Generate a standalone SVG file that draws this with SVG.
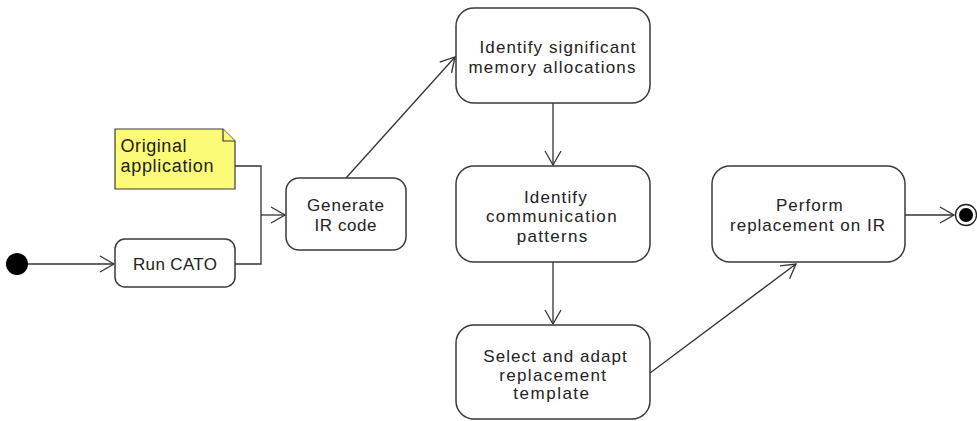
<svg xmlns="http://www.w3.org/2000/svg" width="977" height="421" viewBox="0 0 977 421">
<style>
.box{fill:#fff;stroke:#3a3a3a;stroke-width:1.5}
.note{fill:#FBFB77;stroke:#3a3a3a;stroke-width:1.2}
.t{font-family:"Liberation Sans",Arial,sans-serif;font-size:17px;fill:#222;text-anchor:middle}
.tn{font-family:"Liberation Sans",Arial,sans-serif;font-size:18px;fill:#222}
.c{fill:none;stroke:#333;stroke-width:1.3}
</style>
<defs>
<marker id="arr" markerUnits="userSpaceOnUse" markerWidth="18" markerHeight="20" refX="16" refY="10" orient="auto">
<path d="M2,2 L16,10 L2,18" fill="none" stroke="#333" stroke-width="1.3"/>
</marker>
</defs>
<g id="connectors">
<path class="c" d="M28,264 H114" marker-end="url(#arr)"/>
<path class="c" d="M235,166 H261 V264 H235"/>
<path class="c" d="M261,215 H285" marker-end="url(#arr)"/>
<path class="c" d="M346,178 L455,57" marker-end="url(#arr)"/>
<path class="c" d="M553,103 V165" marker-end="url(#arr)"/>
<path class="c" d="M553,262 V324" marker-end="url(#arr)"/>
<path class="c" d="M650,373 L796,264" marker-end="url(#arr)"/>
<path class="c" d="M905,215 H954" marker-end="url(#arr)"/>
</g>
<g id="start"><circle cx="17" cy="264" r="11" fill="#000"/></g>
<g id="note">
<path class="note" d="M115,129 H223 L235,141 V189 H115 Z"/>
<path class="note" d="M223,129 V141 H235" fill="none"/>
<text class="tn" x="120.5" y="152" textLength="66" lengthAdjust="spacing">Original</text>
<text class="tn" x="120.5" y="172" textLength="93" lengthAdjust="spacing">application</text>
</g>
<g id="run">
<rect class="box" x="115" y="239" width="120" height="48" rx="10"/>
<text class="t" x="175" y="270" textLength="84" lengthAdjust="spacing">Run CATO</text>
</g>
<g id="generate">
<rect class="box" x="286" y="178" width="120" height="72" rx="13"/>
<text class="t" x="345.5" y="211" textLength="77" lengthAdjust="spacing">Generate</text>
<text class="t" x="345.5" y="231" textLength="62" lengthAdjust="spacing">IR code</text>
</g>
<g id="memory">
<rect class="box" x="456" y="8" width="194" height="95" rx="18"/>
<text class="t" x="557.5" y="53" textLength="156" lengthAdjust="spacing">Identify significant</text>
<text class="t" x="552" y="72.5" textLength="167" lengthAdjust="spacing">memory allocations</text>
</g>
<g id="comm">
<rect class="box" x="456" y="166" width="194" height="96" rx="18"/>
<text class="t" x="555.3" y="203.3" textLength="62.7" lengthAdjust="spacing">Identify</text>
<text class="t" x="551.3" y="222.3" textLength="130.7" lengthAdjust="spacing">communication</text>
<text class="t" x="552" y="241.5" textLength="70.6" lengthAdjust="spacing">patterns</text>
</g>
<g id="select">
<rect class="box" x="456" y="325" width="194" height="94" rx="18"/>
<text class="t" x="555" y="361.5" textLength="143.4" lengthAdjust="spacing">Select and adapt</text>
<text class="t" x="552.7" y="380.5" textLength="106.7" lengthAdjust="spacing">replacement</text>
<text class="t" x="551.2" y="399.3" textLength="75.7" lengthAdjust="spacing">template</text>
</g>
<g id="perform">
<rect class="box" x="712" y="166" width="193" height="96" rx="18"/>
<text class="t" x="809.3" y="211" textLength="66.7" lengthAdjust="spacing">Perform</text>
<text class="t" x="807.5" y="231" textLength="155" lengthAdjust="spacing">replacement on IR</text>
</g>
<g id="end">
<circle cx="966" cy="215" r="10.5" fill="#fff" stroke="#222" stroke-width="1.3"/>
<circle cx="966" cy="215" r="7" fill="#000"/>
</g>
</svg>
